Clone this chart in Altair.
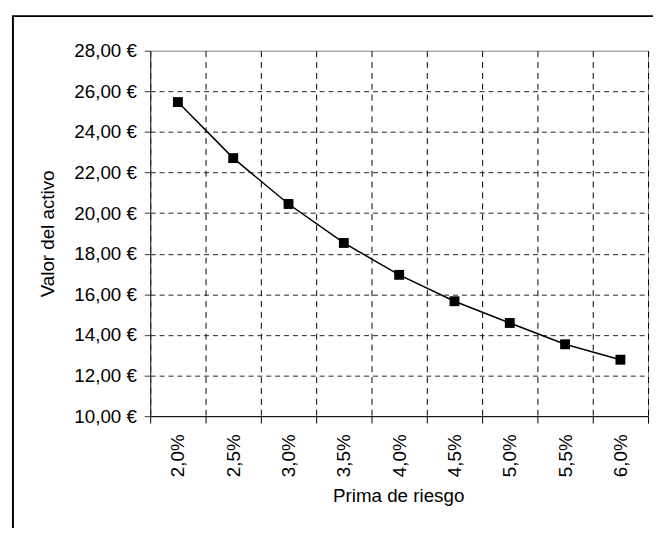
import altair as alt
import pandas as pd

categorias = ["2,0%", "2,5%", "3,0%", "3,5%", "4,0%", "4,5%", "5,0%", "5,5%", "6,0%"]
valores = [25.47, 22.71, 20.45, 18.53, 16.96, 15.66, 14.59, 13.54, 12.78]
y_ticks = [10, 12, 14, 16, 18, 20, 22, 24, 26, 28]

df = pd.DataFrame({"prima": categorias, "valor": valores})
FONT = "Liberation Sans"

x_enc = alt.X(
    "prima:N",
    sort=categorias,
    scale=alt.Scale(type="band", paddingInner=0, paddingOuter=0),
    axis=alt.Axis(
        title="Prima de riesgo",
        labelAngle=-90,
        labelPadding=11,
        tickBand="extent",
        tickSize=7,
        tickColor="black",
        domainColor="black",
        grid=True,
        gridDash=[6, 5],
        gridColor="black",
        titleX=251,
        titleY=80,
        titleBaseline="middle",
    ),
)
y_enc = alt.Y(
    "valor:Q",
    scale=alt.Scale(domain=[10, 28], nice=False, zero=False),
    axis=alt.Axis(
        title="Valor del activo",
        values=y_ticks,
        labelExpr="replace(format(datum.value, '.2f'), '.', ',') + ' €'",
        labelPadding=8,
        tickSize=6,
        tickColor="#333333",
        domainColor="#333333",
        grid=True,
        gridDash=[5, 4],
        gridColor="#222222",
        gridOpacity={"condition": {"test": "datum.value >= 28 || datum.value <= 10", "value": 0}, "value": 1},
        titleX=-104,
        titleY=185,
        titleAngle=-90,
        titleBaseline="middle",
        titleAlign="center",
    ),
)

base = alt.Chart(df)
line = base.mark_line(color="black", strokeWidth=1.5).encode(x=x_enc, y=y_enc)
pts = base.mark_square(color="black", size=100, opacity=1).encode(x=x_enc, y=y_enc)

frame = alt.Chart(pd.DataFrame({"a": [0]})).mark_rect(
    fill=None, stroke="black", strokeWidth=2
).encode(
    x=alt.value(-139), x2=alt.value(700), y=alt.value(-35), y2=alt.value(700)
)

chart = alt.layer(frame, line, pts).properties(
    width=504,
    height=370,
    autosize=alt.AutoSizeParams(type="none"),
    padding={"left": 144, "top": 40, "right": 5, "bottom": 110},
    background="white",
).configure_view(
    stroke="#808080", strokeWidth=1
).configure_axis(
    labelFont=FONT, titleFont=FONT, labelFontSize=19, titleFontSize=19,
    labelColor="black", titleColor="black", titleFontWeight="normal",
)

chart.save("out.html", embed_options={"renderer": "svg", "actions": False})
